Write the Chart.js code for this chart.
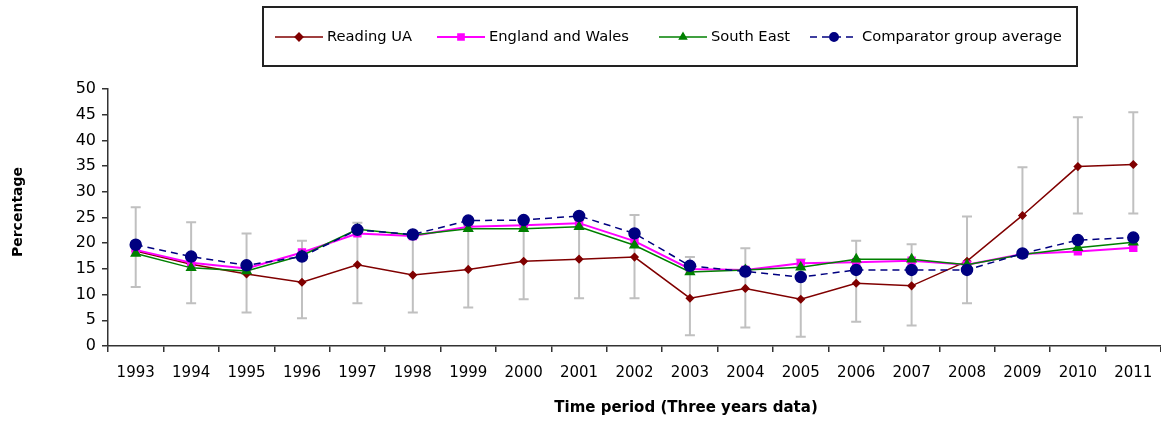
<!DOCTYPE html>
<html>
<head>
<meta charset="utf-8">
<script src="https://cdn.jsdelivr.net/npm/chart.js@4.4.0/dist/chart.umd.min.js"></script>
<style>
  html, body { margin: 0; padding: 0; background: #ffffff; }
  #wrap { width: 1161px; height: 421px; }
</style>
</head>
<body>
<div id="wrap"><canvas id="c" width="1161" height="421"></canvas></div>
<script>
const years = ['1993','1994','1995','1996','1997','1998','1999','2000','2001','2002',
               '2003','2004','2005','2006','2007','2008','2009','2010','2011'];
const readingUA    = [18.5, 15.9, 14.0, 12.4, 15.8, 13.8, 14.9, 16.5, 16.9, 17.3, 9.3, 11.2, 9.1, 12.2, 11.7, 16.5, 25.4, 34.9, 35.3];
const englandWales = [18.7, 16.2, 15.1, 18.2, 21.9, 21.4, 23.2, 23.5, 23.9, 20.4, 15.0, 14.8, 16.1, 16.3, 16.6, 15.8, 17.9, 18.4, 19.1];
const southEast    = [18.0, 15.2, 14.6, 17.6, 22.7, 21.6, 22.8, 22.8, 23.2, 19.6, 14.4, 14.8, 15.3, 16.9, 16.9, 15.8, 17.8, 19.1, 20.2];
const comparator   = [19.7, 17.4, 15.7, 17.4, 22.6, 21.7, 24.4, 24.5, 25.3, 21.9, 15.6, 14.5, 13.4, 14.8, 14.8, 14.8, 18.0, 20.6, 21.1];
const readingLow   = [11.5, 8.3, 6.5, 5.4, 8.3, 6.5, 7.5, 9.1, 9.3, 9.3, 2.1, 3.6, 1.8, 4.7, 4.0, 8.3, 17.5, 25.8, 25.8];
const readingHigh  = [27.0, 24.1, 21.9, 20.5, 24.0, 21.5, 23.5, 24.0, 24.5, 25.5, 17.3, 19.0, 16.9, 20.5, 19.8, 25.2, 34.8, 44.5, 45.5];
const seriesNames  = ['Reading UA', 'England and Wales', 'South East', 'Comparator group average'];
const yTicks = [0, 5, 10, 15, 20, 25, 30, 35, 40, 45, 50];
const xTitle = 'Time period (Three years data)';
const yTitle = 'Percentage';

const errorBars = {
  id: 'errorBars',
  beforeDatasetsDraw(chart) {
    const {ctx, scales: {x, y}} = chart;
    ctx.save();
    ctx.strokeStyle = '#c0c0c0';
    ctx.lineWidth = 2;
    readingLow.forEach((lo, i) => {
      const px = x.getPixelForValue(i);
      const p1 = y.getPixelForValue(lo);
      const p2 = y.getPixelForValue(readingHigh[i]);
      ctx.beginPath();
      ctx.moveTo(px, p1); ctx.lineTo(px, p2);
      ctx.moveTo(px - 5, p1); ctx.lineTo(px + 5, p1);
      ctx.moveTo(px - 5, p2); ctx.lineTo(px + 5, p2);
      ctx.stroke();
    });
    ctx.restore();
  }
};

const axisTitles = {
  id: 'axisTitles',
  afterDraw(chart) {
    const ctx = chart.ctx;
    ctx.save();
    ctx.fillStyle = '#000';
    ctx.textAlign = 'center';
    ctx.textBaseline = 'middle';
    ctx.font = 'bold 15px "DejaVu Sans"';
    ctx.fillText(xTitle, 686, 408);
    ctx.translate(18, 212);
    ctx.rotate(-Math.PI / 2);
    ctx.font = 'bold 14px "DejaVu Sans"';
    ctx.fillText(yTitle, 0, 0);
    ctx.restore();
  }
};

const boxLegend = {
  id: 'boxLegend',
  afterDraw(chart) {
    const ctx = chart.ctx;
    ctx.save();
    ctx.strokeStyle = '#222';
    ctx.lineWidth = 2;
    ctx.strokeRect(263, 7, 814, 59);
    const starts = [275, 437, 659, 810];
    const cy = 37;
    ctx.font = '14.7px "DejaVu Sans"';
    ctx.textBaseline = 'middle';
    ctx.textAlign = 'left';
    chart.data.datasets.forEach((ds, i) => {
      const x0 = starts[i];
      const x1 = x0 + 48;
      ctx.save();
      ctx.strokeStyle = ds.borderColor;
      ctx.lineWidth = ds.borderWidth;
      ctx.setLineDash(ds.borderDash || []);
      ctx.beginPath();
      ctx.moveTo(x0, cy); ctx.lineTo(x1, cy);
      ctx.stroke();
      ctx.restore();
      ctx.save();
      ctx.fillStyle = ds.backgroundColor;
      ctx.strokeStyle = ds.backgroundColor;
      ctx.beginPath();
      Chart.helpers.drawPoint(ctx, {pointStyle: ds.pointStyle, radius: ds.legendRadius, borderWidth: 1}, (x0 + x1) / 2, cy);
      ctx.restore();
      ctx.fillStyle = '#000';
      ctx.fillText(ds.label, x1 + 4, cy);
    });
    ctx.restore();
  }
};

new Chart(document.getElementById('c'), {
  type: 'line',
  data: {
    labels: years,
    datasets: [
      { label: seriesNames[0], data: readingUA, borderColor: '#800000', backgroundColor: '#800000',
        borderWidth: 1.5, pointStyle: 'rectRot', pointRadius: 3.5, legendRadius: 3.5, order: 4 },
      { label: seriesNames[1], data: englandWales, borderColor: '#ff00ff', backgroundColor: '#ff00ff',
        borderWidth: 2, pointStyle: 'rect', pointRadius: 4.5, legendRadius: 4, order: 3 },
      { label: seriesNames[2], data: southEast, borderColor: '#008000', backgroundColor: '#008000',
        borderWidth: 1.5, pointStyle: 'triangle', pointRadius: 5, legendRadius: 3.5, order: 2 },
      { label: seriesNames[3], data: comparator, borderColor: '#000080', backgroundColor: '#000080',
        borderWidth: 1.5, borderDash: [7, 5], pointStyle: 'circle', pointRadius: 5.5, legendRadius: 4, order: 1 }
    ]
  },
  options: {
    responsive: false,
    devicePixelRatio: 1,
    animation: false,
    events: [],
    layout: { autoPadding: false, padding: { top: 89, right: 0, left: 0, bottom: 0 } },
    elements: { line: { tension: 0 }, point: { borderWidth: 1 } },
    plugins: { legend: { display: false }, tooltip: { enabled: false } },
    scales: {
      x: {
        offset: true,
        grid: { display: true, drawOnChartArea: false, drawTicks: true, tickLength: 6, color: '#333', lineWidth: 1.5, offset: true },
        border: { display: true, color: '#333', width: 1.5 },
        ticks: { color: '#000', font: { family: 'DejaVu Sans', size: 15 }, padding: 12, maxRotation: 0, autoSkip: false },
        title: { display: false },
        afterFit(scale) { scale.height = 75; scale.paddingLeft = 0; scale.paddingRight = 0; }
      },
      y: {
        min: 0, max: 50,
        afterBuildTicks(scale) { scale.ticks = yTicks.map(v => ({ value: v })); },
        grid: { display: true, drawOnChartArea: false, drawTicks: true, tickLength: 6, color: '#333', lineWidth: 1.5 },
        border: { display: true, color: '#333', width: 1.5 },
        ticks: { color: '#000', font: { family: 'DejaVu Sans', size: 16 }, padding: 6 },
        title: { display: false },
        afterFit(scale) { scale.width = 108; scale.paddingTop = 0; scale.paddingBottom = 0; }
      }
    }
  },
  plugins: [errorBars, axisTitles, boxLegend]
});
</script>
</body>
</html>
